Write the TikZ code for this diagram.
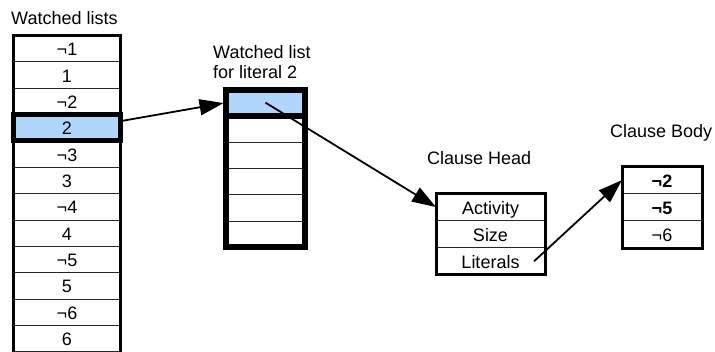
\documentclass[tikz,border=0pt]{standalone}
\usepackage{fontspec}
\setmainfont{Liberation Sans}
\usetikzlibrary{arrows.meta,calc,backgrounds}
\definecolor{hlblue}{RGB}{176,214,252}
\newcommand\CellStack[6]{%
    % #1 name, #2 centre x, #3 top y, #4 width, #5 row height, #6 labels
    \foreach \lab [count=\i] in {#6} {
        \node[cell, minimum width=#4pt, minimum height=#5pt] (#1\i) at (#2,{#3+(\i-1)*#5}) {\lab};
    }
}

\begin{document}
\begin{tikzpicture}[x=1pt, y=-1pt,
    every node/.style={font=\fontsize{18}{20}\selectfont},
    cell/.style={draw=black!85, line width=0.9pt, anchor=north, inner sep=0pt, outer sep=0pt, text height=14pt, text depth=0pt},
    frame/.style={line width=#1}, frame/.default=3pt,
    arrow/.style={line width=1.8pt, -{Triangle[length=24pt,width=16pt]}},
    title/.style={anchor=base west, inner sep=0pt}]
    \useasboundingbox (0,0) rectangle (715,351);
    % watched lists
    \node[title] (wtitle) at (11,24) {Watched lists};
    \CellStack{w}{67}{35.5}{107}{26.35}{¬1,1,¬2,2,¬3,3,¬4,4,¬5,5,¬6,6}
    \draw[frame=5pt] (w4.north west) rectangle (w4.south east);
    \draw[frame=3.5pt] (w12.south west) -- (w1.north west) -- (w1.north east) -- (w12.south east);
    % list of literal 2
    \node[title, anchor=north west, align=left] (ltitle) at (213,45.4) {Watched list\\for literal 2};
    \CellStack{l}{265.5}{89.5}{79}{26.3}{{},{},{},{},{},{}}
    \draw[frame=6pt] (l1.north west) rectangle (l1.south east);
    \draw[frame=6pt] (l1.north west) rectangle (l6.south east);
    % clause head
    \node[title] (htitle) at (427,164.5) {Clause Head};
    \CellStack{h}{490.5}{193.5}{109}{27.1}{Activity,Size,Literals}
    \draw[frame] (h1.north west) rectangle (h3.south east);
    % clause body
    \node[title] (btitle) at (610,137.5) {Clause Body};
    \CellStack{b}{662}{166.5}{80}{27.2}{\textbf{¬2},\textbf{¬5},¬6}
    \draw[frame] (b1.north west) rectangle (b3.south east);
    \begin{scope}[on background layer]
        \fill[hlblue] (w4.north west) rectangle (w4.south east);
        \fill[hlblue] (l1.north west) rectangle (l1.south east);
    \end{scope}
    % pointers
    \draw[arrow, shorten >=2.5pt] ($(w4.east)!0.5!(w4.north east)$) -- (l1.west);
    \draw[arrow] (l1.center) -- (h1.west);
    \draw[arrow] ($(h3.center)!0.8!(h3.east)$) -- (b1.west);
\end{tikzpicture}
\end{document}
